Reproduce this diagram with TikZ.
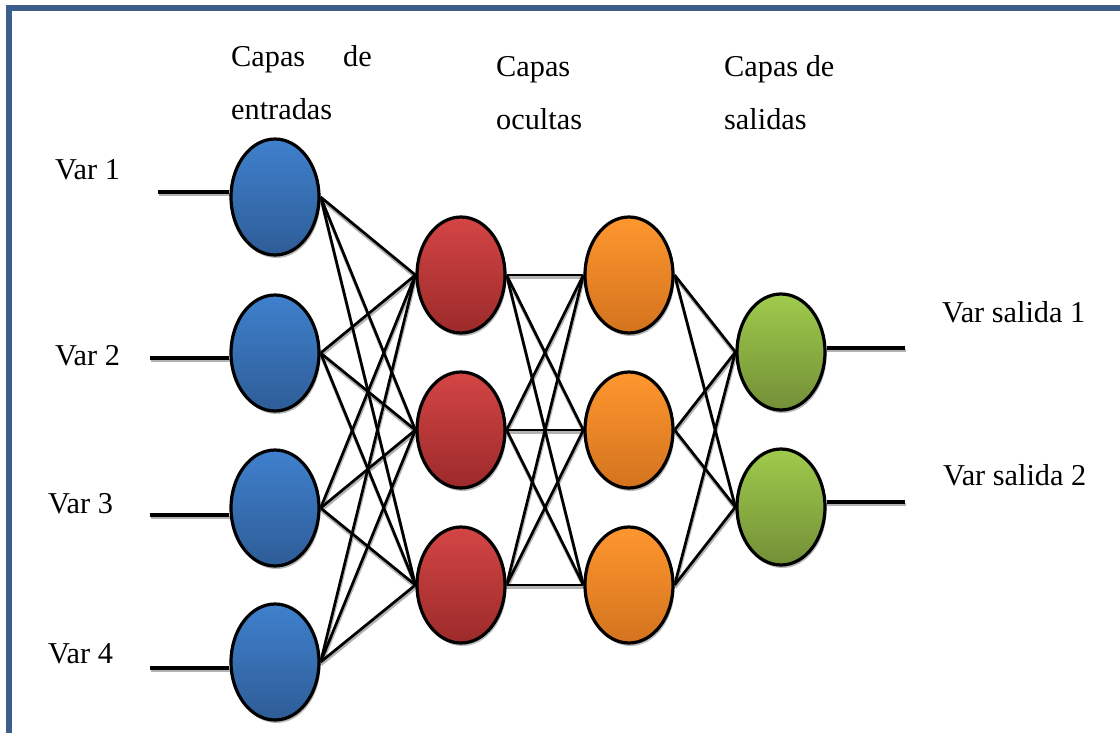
\documentclass[tikz,border=0pt]{standalone}
\usepackage{fontspec}
\setmainfont{Liberation Serif}
\usetikzlibrary{shapes.geometric,shadows,backgrounds}
\definecolor{frameblue}{HTML}{3B5E8B}
\definecolor{bluetop}{HTML}{3F80CD}
\definecolor{bluebot}{HTML}{2E5D97}
\definecolor{redtop}{HTML}{D44545}
\definecolor{redbot}{HTML}{9C2A2A}
\definecolor{orangetop}{HTML}{FF972F}
\definecolor{orangebot}{HTML}{D3731E}
\definecolor{greentop}{HTML}{9FCB4C}
\definecolor{greenbot}{HTML}{738F37}
\tikzset{
  neuron/.style={ellipse, draw=black, line width=3.2pt, minimum width=88pt, minimum height=116pt, inner sep=0pt,
    drop shadow={shadow xshift=1.5pt, shadow yshift=-3pt, fill=black!35, opacity=0.8}},
  inl/.style={neuron, top color=bluetop, bottom color=bluebot},
  hid1/.style={neuron, top color=redtop, bottom color=redbot},
  hid2/.style={neuron, top color=orangetop, bottom color=orangebot},
  outl/.style={neuron, top color=greentop, bottom color=greenbot},
  wire/.style={line width=2.7pt, draw=black},
  wireshadow/.style={line width=3pt, draw=black!30},
  ioline/.style={line width=3.2pt, draw=black},
  iolineshadow/.style={line width=3.6pt, draw=black!30},
  lbl/.style={font=\fontsize{30.3}{36}\selectfont, inner sep=0pt, text=black}
}
\begin{document}
\begin{tikzpicture}[x=1pt,y=-1pt]
\useasboundingbox (0,0) rectangle (1120,733);

% neurons
\node[inl] (i1) at (275,197) {};
\node[inl] (i2) at (275,353) {};
\node[inl] (i3) at (275,508) {};
\node[inl] (i4) at (275,662) {};
\node[hid1] (h1) at (461,275) {};
\node[hid1] (h2) at (461,430) {};
\node[hid1] (h3) at (461,585) {};
\node[hid2] (g1) at (629,275) {};
\node[hid2] (g2) at (629,430) {};
\node[hid2] (g3) at (629,585) {};
\node[outl] (o1) at (781,352) {};
\node[outl] (o2) at (781,507) {};

% free ends of io lines
\coordinate (l1) at (158,192);
\coordinate (l2) at (150,358);
\coordinate (l3) at (150,515);
\coordinate (l4) at (150,668);
\coordinate (r1) at (905,348);
\coordinate (r2) at (905,502);

\begin{scope}[on background layer]
  \fill[white] (0,0) rectangle (1120,733);
  \begin{scope}[transform canvas={shift={(0.5pt,-2.5pt)}}]
    \foreach \a in {i1,i2,i3,i4}{\foreach \b in {h1,h2,h3}{\draw[wireshadow] (\a.east) -- (\b.west);}}
    \foreach \a in {h1,h2,h3}{\foreach \b in {g1,g2,g3}{\draw[wireshadow] (\a.east) -- (\b.west);}}
    \foreach \a in {g1,g2,g3}{\foreach \b in {o1,o2}{\draw[wireshadow] (\a.east) -- (\b.west);}}
    \foreach \l/\n in {l1/i1,l2/i2,l3/i3,l4/i4}{\draw[iolineshadow] (\l) -- (\l -| \n.west);}
    \foreach \r/\n in {r1/o1,r2/o2}{\draw[iolineshadow] (\r -| \n.east) -- (\r);}
  \end{scope}
  \foreach \a in {i1,i2,i3,i4}{\foreach \b in {h1,h2,h3}{\draw[wire] (\a.east) -- (\b.west);}}
  \foreach \a in {h1,h2,h3}{\foreach \b in {g1,g2,g3}{\draw[wire] (\a.east) -- (\b.west);}}
  \foreach \a in {g1,g2,g3}{\foreach \b in {o1,o2}{\draw[wire] (\a.east) -- (\b.west);}}
  \foreach \l/\n in {l1/i1,l2/i2,l3/i3,l4/i4}{\draw[ioline] (\l) -- (\l -| \n.west);}
  \foreach \r/\n in {r1/o1,r2/o2}{\draw[ioline] (\r -| \n.east) -- (\r);}
\end{scope}

% frame
\draw[frameblue, line width=6pt] (8.5,733) -- (8.5,8) -- (1120,8);

% labels
\node[lbl, anchor=base west] (t1a) at (231,67) {Capas};
\node[lbl, anchor=base east] (t1b) at (372,67) {de};
\node[lbl, anchor=base west] (t1c) at (231,120) {entradas};
\node[lbl, anchor=base west] (t2a) at (496,77) {Capas};
\node[lbl, anchor=base west] (t2b) at (496,130) {ocultas};
\node[lbl, anchor=base west] (t3a) at (724,77) {Capas de};
\node[lbl, anchor=base west] (t3b) at (724,130) {salidas};
\node[lbl, anchor=base west] (v1) at (55,180) {Var 1};
\node[lbl, anchor=base west] (v2) at (55,365) {Var 2};
\node[lbl, anchor=base west] (v3) at (48,513) {Var 3};
\node[lbl, anchor=base west] (v4) at (48,663) {Var 4};
\node[lbl, anchor=base west] (s1) at (942,322) {Var salida 1};
\node[lbl, anchor=base west] (s2) at (943,485) {Var salida 2};
\end{tikzpicture}
\end{document}
